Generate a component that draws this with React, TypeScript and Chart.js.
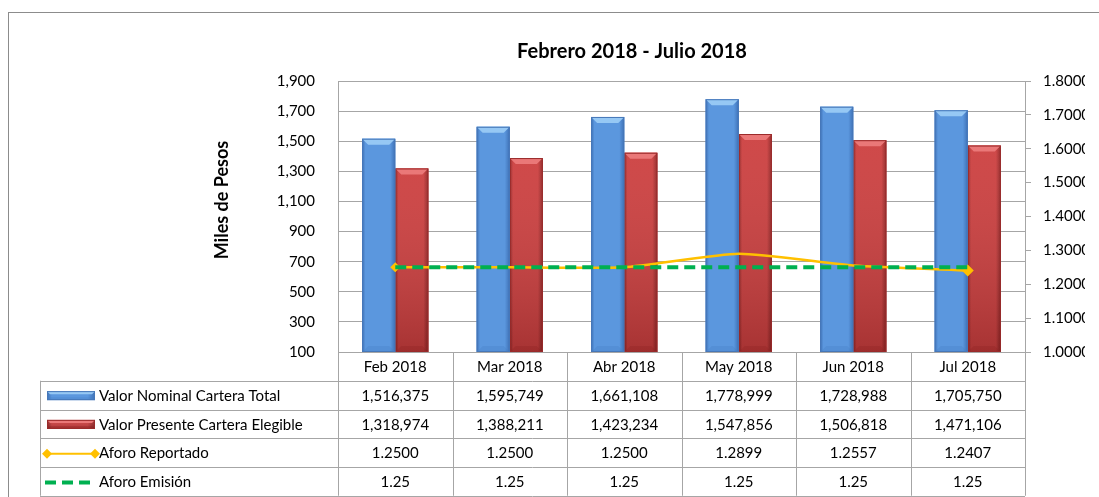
import React, { useEffect, useRef } from "react";
import { Chart, registerables } from "chart.js";

Chart.register(...registerables);

// ---------- data ----------
const months = ["Feb 2018", "Mar 2018", "Abr 2018", "May 2018", "Jun 2018", "Jul 2018"];
const valorNominal = [1516375, 1595749, 1661108, 1778999, 1728988, 1705750];
const valorPresente = [1318974, 1388211, 1423234, 1547856, 1506818, 1471106];
const aforoReportado = [1.25, 1.25, 1.25, 1.2899, 1.2557, 1.2407];
const aforoEmision = [1.25, 1.25, 1.25, 1.25, 1.25, 1.25];
const seriesNames = [
  "Valor Nominal Cartera Total",
  "Valor Presente Cartera Elegible",
  "Aforo Reportado",
  "Aforo Emisión",
];
const leftAxis = { min: 100, max: 1900, step: 200 };
const rightAxis = { min: 1.0, max: 1.8, step: 0.1 };
const chartTitle = "Febrero 2018 - Julio 2018";
const leftAxisTitle = "Miles de Pesos";

// ---------- styles ----------
const FONT = "Lato, 'Liberation Sans', sans-serif";
const GRID = "#A6A6A6";
const BLUE = { base: "#5B97DE", edge: "#3E71B6", top: "#96C8F4", bottom: "#477DC2", line: "#4677B8" };
const RED = { base: "#CC3E3E", edge: "#8E2323", top: "#EA7878", bottom: "#8A2222", line: "#9A2B2B" };
const ORANGE = "#FFC000";
const GREEN = "#00B050";

function paintBar(ctx: CanvasRenderingContext2D, L: number, T: number, R: number, B: number, p: any, vert: boolean, bev = 6) {
  const w = R - L;
  const h = B - T;
  if (w <= 0 || h <= 0) return;
  const g = ctx.createLinearGradient(L, 0, R, 0);
  g.addColorStop(0, p.edge);
  g.addColorStop(0.1, p.base);
  g.addColorStop(0.85, p.base);
  g.addColorStop(1, p.edge);
  ctx.fillStyle = g;
  ctx.fillRect(L, T, w, h);
  if (vert) {
    const gv = ctx.createLinearGradient(0, T, 0, B);
    gv.addColorStop(0, "rgba(255,255,255,0.06)");
    gv.addColorStop(1, "rgba(0,0,0,0.18)");
    ctx.fillStyle = gv;
    ctx.fillRect(L, T, w, h);
  }
  const b = Math.min(bev, h / 2, w / 4);
  ctx.beginPath();
  ctx.moveTo(L, T);
  ctx.lineTo(R, T);
  ctx.lineTo(R - b, T + b);
  ctx.lineTo(L + b, T + b);
  ctx.closePath();
  ctx.fillStyle = p.top;
  ctx.fill();
  ctx.beginPath();
  ctx.moveTo(L, B);
  ctx.lineTo(R, B);
  ctx.lineTo(R - b, B - b);
  ctx.lineTo(L + b, B - b);
  ctx.closePath();
  ctx.globalAlpha = 0.3;
  ctx.fillStyle = p.bottom;
  ctx.fill();
  ctx.globalAlpha = 1;
  ctx.strokeStyle = p.line;
  ctx.lineWidth = 1;
  ctx.strokeRect(L + 0.5, T + 0.5, w - 1, h - 1);
}

const decorPlugin = {
  id: "decor",
  afterDatasetDraw(chart: any, args: any) {
    const ds = chart.data.datasets[args.index];
    if (ds.type !== "bar") return;
    const ctx = chart.ctx;
    const area = chart.chartArea;
    const pal = args.index === 0 ? BLUE : RED;
    ctx.save();
    args.meta.data.forEach((el: any) => {
      const { x, y, base, width } = el.getProps(["x", "y", "base", "width"], true);
      const T = Math.max(Math.min(y, base), area.top);
      const B = Math.min(Math.max(y, base), area.bottom);
      paintBar(ctx, x - width / 2, T, x + width / 2, B, pal, args.index === 1);
    });
    ctx.restore();
  },
  afterDraw(chart: any) {
    const ctx: CanvasRenderingContext2D = chart.ctx;
    const area = chart.chartArea;
    const xs = chart.scales.x;
    ctx.save();

    // outer frame
    ctx.strokeStyle = "#8C8C8C";
    ctx.lineWidth = 1;
    ctx.strokeRect(8.5, 12.5, 1200, 600);

    // title
    ctx.fillStyle = "#000";
    ctx.font = `bold 20px ${FONT}`;
    ctx.textAlign = "center";
    ctx.textBaseline = "middle";
    ctx.fillText(chartTitle, 632, 52);

    // left axis title
    ctx.save();
    ctx.translate(222, 200);
    ctx.rotate(-Math.PI / 2);
    ctx.font = `bold 18px ${FONT}`;
    ctx.fillText(leftAxisTitle, 0, 0);
    ctx.restore();

    // data table
    const n = months.length;
    const colW = (area.right - area.left) / n;
    const rowH = 28.75;
    const top = area.bottom;
    const labelLeft = 40;
    const rows = 5;
    const yEnd = top + rowH * rows;
    ctx.strokeStyle = GRID;
    ctx.lineWidth = 1;
    ctx.beginPath();
    ctx.moveTo(area.left, Math.round(top) + 0.5);
    ctx.lineTo(area.right, Math.round(top) + 0.5);
    for (let r = 1; r <= rows; r++) {
      const yy = Math.round(top + rowH * r) + 0.5;
      ctx.moveTo(labelLeft, yy);
      ctx.lineTo(area.right, yy);
    }
    for (let c = 0; c <= n; c++) {
      const xx = Math.round(area.left + colW * c) + 0.5;
      ctx.moveTo(xx, top);
      ctx.lineTo(xx, yEnd);
    }
    ctx.moveTo(labelLeft + 0.5, top + rowH);
    ctx.lineTo(labelLeft + 0.5, yEnd);
    ctx.stroke();

    ctx.font = `15px ${FONT}`;
    ctx.fillStyle = "#000";
    ctx.textAlign = "center";
    ctx.textBaseline = "middle";
    const rowValues: string[][] = [
      months,
      valorNominal.map((v) => v.toLocaleString("en-US")),
      valorPresente.map((v) => v.toLocaleString("en-US")),
      aforoReportado.map((v) => v.toFixed(4)),
      aforoEmision.map((v) => v.toFixed(2)),
    ];
    rowValues.forEach((vals, r) => {
      const cy = top + rowH * r + rowH / 2 + 1;
      vals.forEach((v, i) => {
        const cx = xs.getPixelForValue(i);
        ctx.fillText(v, cx, cy);
      });
    });

    ctx.textAlign = "left";
    seriesNames.forEach((name, k) => {
      const cy = top + rowH * (k + 1) + rowH / 2 + 1;
      ctx.fillStyle = "#000";
      ctx.fillText(name, 99, cy);
      if (k === 0 || k === 1) {
        paintBar(ctx, 47, cy - 5, 95, cy + 4, k === 0 ? BLUE : RED, k === 1, 3);
      } else if (k === 2) {
        ctx.strokeStyle = ORANGE;
        ctx.lineWidth = 2;
        ctx.beginPath();
        ctx.moveTo(47, cy);
        ctx.lineTo(95, cy);
        ctx.stroke();
        ctx.fillStyle = ORANGE;
        [47, 95].forEach((px) => {
          ctx.beginPath();
          ctx.moveTo(px, cy - 5);
          ctx.lineTo(px + 5, cy);
          ctx.lineTo(px, cy + 5);
          ctx.lineTo(px - 5, cy);
          ctx.closePath();
          ctx.fill();
        });
      } else {
        ctx.strokeStyle = GREEN;
        ctx.lineWidth = 4;
        ctx.setLineDash([11, 6]);
        ctx.beginPath();
        ctx.moveTo(45, cy);
        ctx.lineTo(91, cy);
        ctx.stroke();
        ctx.setLineDash([]);
      }
    });
    ctx.restore();
  },
};

export default function App() {
  const ref = useRef<HTMLCanvasElement | null>(null);
  useEffect(() => {
    if (!ref.current) return;
    const chart = new Chart(ref.current, {
      data: {
        labels: months,
        datasets: [
          {
            type: "bar",
            label: seriesNames[0],
            data: valorNominal.map((v) => v / 1000),
            backgroundColor: BLUE.base,
            borderWidth: 0,
            yAxisID: "y",
            order: 2,
          },
          {
            type: "bar",
            label: seriesNames[1],
            data: valorPresente.map((v) => v / 1000),
            backgroundColor: RED.base,
            borderWidth: 0,
            yAxisID: "y",
            order: 3,
          },
          {
            type: "line",
            label: seriesNames[2],
            data: aforoReportado,
            borderColor: ORANGE,
            backgroundColor: ORANGE,
            borderWidth: 2.5,
            tension: 0.18,
            pointStyle: "rectRot",
            pointRadius: [5, 0, 0, 0, 0, 6],
            pointBorderWidth: 0,
            yAxisID: "y1",
            order: 1,
          },
          {
            type: "line",
            label: seriesNames[3],
            data: aforoEmision,
            borderColor: GREEN,
            borderWidth: 4,
            borderDash: [11, 6],
            borderCapStyle: "butt",
            pointRadius: 0,
            yAxisID: "y1",
            order: 0,
          },
        ],
      } as any,
      options: {
        animation: false,
        responsive: false,
        devicePixelRatio: 1,
        layout: { padding: { left: 190, right: 14, top: 81, bottom: 145 } },
        plugins: { legend: { display: false }, tooltip: { enabled: false }, title: { display: false } },
        datasets: { bar: { barPercentage: 1, categoryPercentage: 0.578 } },
        scales: {
          x: { type: "category", display: false, offset: true },
          y: {
            type: "linear",
            position: "left",
            min: leftAxis.min,
            max: leftAxis.max,
            afterFit: (s: any) => {
              s.width = 148;
            },
            ticks: {
              stepSize: leftAxis.step,
              padding: 23,
              color: "#000",
              font: { family: FONT, size: 15 },
              callback: (v: any) => Number(v).toLocaleString("en-US"),
            },
            grid: { color: GRID, drawTicks: false, lineWidth: 1 },
            border: { display: true, color: GRID },
          },
          y1: {
            type: "linear",
            position: "right",
            min: rightAxis.min,
            max: rightAxis.max,
            afterFit: (s: any) => {
              s.width = 60;
            },
            ticks: {
              stepSize: rightAxis.step,
              padding: 12,
              color: "#000",
              font: { family: FONT, size: 15 },
              callback: (v: any) => Number(v).toFixed(4),
            },
            grid: { drawOnChartArea: false, drawTicks: true, tickLength: 6, color: GRID },
            border: { display: true, color: GRID },
          },
        },
      } as any,
      plugins: [decorPlugin],
    });
    return () => chart.destroy();
  }, []);
  return (
    <div style={{ position: "absolute", left: 0, top: 0, width: 1099, height: 497, background: "#fff" }}>
      <canvas ref={ref} width={1099} height={497} />
    </div>
  );
}
